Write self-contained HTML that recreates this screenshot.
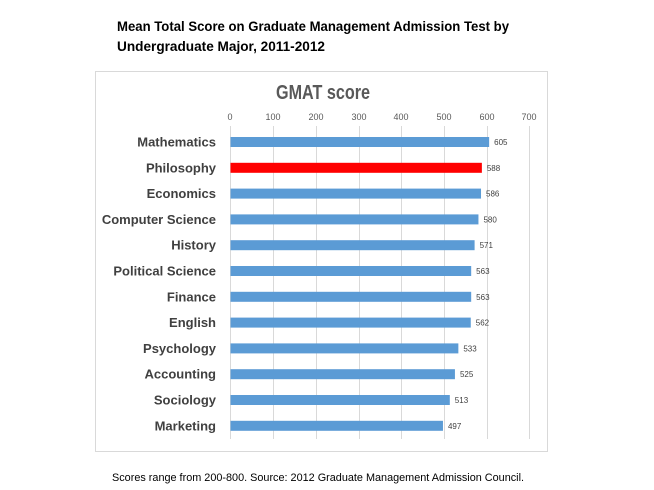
<!DOCTYPE html>
<html><head><style>
body{margin:0;width:654px;height:490px;background:#fff;font-family:"Liberation Sans",sans-serif;position:relative;overflow:hidden}
.t{position:absolute;white-space:nowrap}
</style></head><body>
<svg width="654" height="490" style="position:absolute;left:0;top:0" font-family="Liberation Sans">
<text x="117" y="31" font-size="14" font-weight="bold" fill="#000" textLength="392" lengthAdjust="spacingAndGlyphs">Mean Total Score on Graduate Management Admission Test by</text>
<text x="117" y="51" font-size="14" font-weight="bold" fill="#000" textLength="208" lengthAdjust="spacingAndGlyphs">Undergraduate Major, 2011-2012</text>
<rect x="95.5" y="71.5" width="452" height="380" fill="none" stroke="#d9d9d9"/>
<text x="276" y="99" font-size="20" font-weight="bold" fill="#595959" textLength="94" lengthAdjust="spacingAndGlyphs">GMAT score</text>
<g stroke="#d9d9d9" stroke-width="1">
<line x1="230.5" y1="126" x2="230.5" y2="439"/><line x1="273.5" y1="126" x2="273.5" y2="439"/><line x1="316.5" y1="126" x2="316.5" y2="439"/><line x1="359.5" y1="126" x2="359.5" y2="439"/><line x1="401.5" y1="126" x2="401.5" y2="439"/><line x1="444.5" y1="126" x2="444.5" y2="439"/><line x1="487.5" y1="126" x2="487.5" y2="439"/><line x1="529.5" y1="126" x2="529.5" y2="439"/>
</g>
<g font-size="9" fill="#595959" text-anchor="middle">
<text x="230" y="120">0</text><text x="273" y="120">100</text><text x="316" y="120">200</text><text x="359" y="120">300</text><text x="401" y="120">400</text><text x="444" y="120">500</text><text x="487" y="120">600</text><text x="529" y="120">700</text>
</g>
<g id="bars"></g>
<text x="112" y="481" font-size="11" fill="#000" textLength="412" lengthAdjust="spacingAndGlyphs">Scores range from 200-800.  Source:  2012 Graduate Management Admission Council.</text>
</svg>
<script>
var d=[["Mathematics",605],["Philosophy",588],["Economics",586],["Computer Science",580],["History",571],["Political Science",563],["Finance",563],["English",562],["Psychology",533],["Accounting",525],["Sociology",513],["Marketing",497]];
var g=document.getElementById('bars'),s='';
d.forEach(function(r,i){var c=142+i*25.8,w=r[1]*0.4275;
s+='<text x="216" y="'+(c+4.5)+'" font-size="13" font-weight="bold" fill="#404040" text-anchor="end">'+r[0]+'</text>';
s+='<rect x="230.5" y="'+(c-5)+'" width="'+w+'" height="10" fill="'+(i==1?'#ff0000':'#5b9bd5')+'"/>';
s+='<text x="'+(230.5+w+5)+'" y="'+(c+3)+'" font-size="8" fill="#404040">'+r[1]+'</text>';});
g.innerHTML=s;
</script>
</body></html>
